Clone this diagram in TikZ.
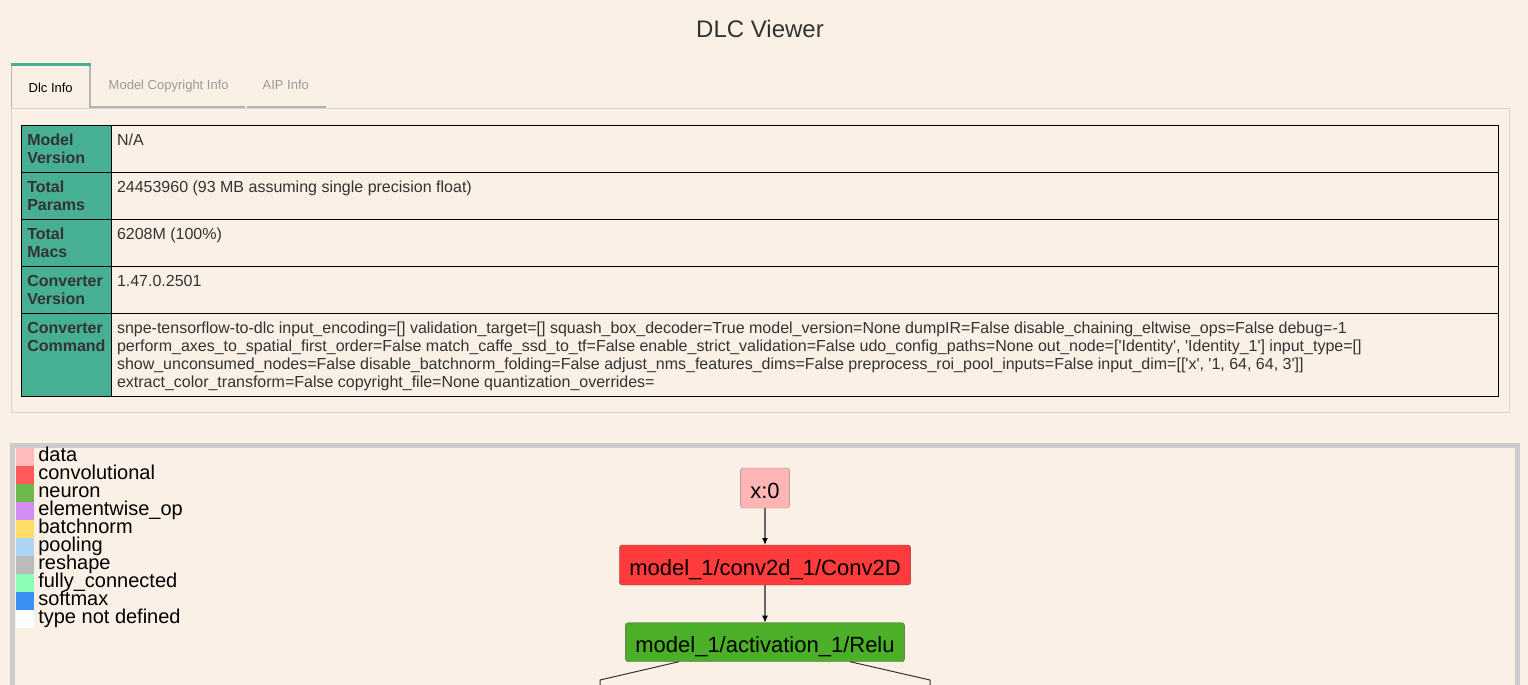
\documentclass[tikz,border=0pt]{standalone}
\usepackage{fontspec}
\setmainfont{Liberation Sans}[Ligatures=TeXOff]
\usetikzlibrary{arrows.meta}

\definecolor{pagebg}{HTML}{FAF0E6}
\definecolor{txt}{HTML}{333333}
\definecolor{hdrteal}{HTML}{47AF94}
\definecolor{tabgrey}{HTML}{B4B4B4}
\definecolor{tabtext}{HTML}{9A9A9A}
\definecolor{panelgrey}{HTML}{D3D3D3}
\definecolor{framegrey}{HTML}{CCCCCC}
\definecolor{datacol}{HTML}{FFBBBB}
\definecolor{convcol}{HTML}{FF5A5A}
\definecolor{neuroncol}{HTML}{6DB84A}
\definecolor{eltcol}{HTML}{D18DF2}
\definecolor{bncol}{HTML}{FFDD66}
\definecolor{poolcol}{HTML}{ADD3F5}
\definecolor{reshapecol}{HTML}{BBBBBB}
\definecolor{fccol}{HTML}{8CFFB4}
\definecolor{softmaxcol}{HTML}{3B8FF0}
\definecolor{xfill}{HTML}{FFB5B5}
\definecolor{convfill}{HTML}{FF3B3B}
\definecolor{relufill}{HTML}{4CAF28}

\begin{document}
\begin{tikzpicture}[x=1pt,y=-1pt,
    every node/.style={inner sep=0pt, outer sep=0pt, text=txt},
    cellbox/.style={draw=black, line width=1.2pt},
    hcell/.style={anchor=base west, align=left, font=\bfseries\fontsize{16}{18}\selectfont},
    vcell/.style={anchor=base west, align=left, font=\fontsize{16}{18}\selectfont},
    tabname/.style={anchor=base, font=\fontsize{13}{15}\selectfont, text=tabtext},
    swatch/.style={anchor=north west, minimum width=18.6pt, minimum height=18pt},
    legtext/.style={anchor=base west, font=\fontsize{20}{18}\selectfont, text=black},
    layer/.style={draw=black!65, rounded corners=3pt, minimum height=40pt, inner xsep=10pt,
        text height=22pt, text depth=2pt, font=\fontsize{22}{24}\selectfont, text=black},
    flow/.style={draw=black!60, line width=1.3pt, -{Latex[length=7pt,width=6pt,color=black]}},
    branch/.style={draw=black!80, line width=1pt}]
    \useasboundingbox (0,0) rectangle (1528,685);
    \clip (0,0) rectangle (1528,685);
    \fill[pagebg] (0,0) rectangle (1528,685);

    % title
    \node[anchor=base, font=\fontsize{24}{28}\selectfont] (title) at (760,37.3) {DLC Viewer};

    % tabs
    \draw[tabgrey, line width=1.5pt] (11.5,108) -- (11.5,65) (90,65) -- (90,108);
    \draw[hdrteal, line width=3pt] (10.7,64.8) -- (90.7,64.8);
    \draw[tabgrey, line width=2pt] (90.7,107) -- (245,107) (246.7,107) -- (325.7,107);
    \node[tabname, text=black] (dlctab) at (50.7,92.3) {Dlc Info};
    \node[tabname] (copytab) at (168.7,89) {Model Copyright Info};
    \node[tabname] (aiptab) at (285.8,89) {AIP Info};

    % info panel (base of a node = baseline of its last line)
    \draw[panelgrey, line width=1pt] (11,108.5) rectangle (1509,412);
    \fill[hdrteal] (21.3,125.3) rectangle (111.7,396.3);
    \draw[cellbox] (21.3,125.3) rectangle (1498.7,396.3);
    \draw[cellbox] (111.7,125.3) -- (111.7,396.3);
    \draw[cellbox] (21.3,172.3) -- (1498.7,172.3);
    \draw[cellbox] (21.3,219.3) -- (1498.7,219.3);
    \draw[cellbox] (21.3,266.3) -- (1498.7,266.3);
    \draw[cellbox] (21.3,313.3) -- (1498.7,313.3);

    \node[hcell] (hversion) at (27.3,163.6) {Model\\Version};
    \node[vcell] (vversion) at (117,145.6) {N/A};
    \node[hcell] (hparams) at (27.3,210.6) {Total\\Params};
    \node[vcell] (vparams) at (117,192.6) {24453960 (93 MB assuming single precision float)};
    \node[hcell] (hmacs) at (27.3,257.6) {Total\\Macs};
    \node[vcell] (vmacs) at (117,239.6) {6208M (100\%)};
    \node[hcell] (hconv) at (27.3,304.6) {Converter\\Version};
    \node[vcell] (vconv) at (117,286.6) {1.47.0.2501};
    \node[hcell] (hcmd) at (27.3,351.6) {Converter\\Command};
    \node[vcell] (vcmd) at (117,387.6) {snpe-tensorflow-to-dlc input\_encoding=[] validation\_target=[] squash\_box\_decoder=True model\_version=None dumpIR=False disable\_chaining\_eltwise\_ops=False debug=-1\\
        perform\_axes\_to\_spatial\_first\_order=False match\_caffe\_ssd\_to\_tf=False enable\_strict\_validation=False udo\_config\_paths=None out\_node=['Identity', 'Identity\_1'] input\_type=[]\\
        show\_unconsumed\_nodes=False disable\_batchnorm\_folding=False adjust\_nms\_features\_dims=False preprocess\_roi\_pool\_inputs=False input\_dim=[['x', '1, 64, 64, 3']]\\
        extract\_color\_transform=False copyright\_file=None quantization\_overrides=};

    % graph panel
    \draw[framegrey, line width=5pt] (12.5,700) -- (12.5,445.8) -- (1517.5,445.8) -- (1517.5,700);

    % legend
    \node[swatch, fill=datacol] (sdata) at (15.7,448.3) {};
    \node[legtext] (ldata) at (38.3,461.7) {data};
    \node[swatch, fill=convcol] (sconv) at (15.7,466.3) {};
    \node[legtext] (lconv) at (38.3,479.7) {convolutional};
    \node[swatch, fill=neuroncol] (sneuron) at (15.7,484.3) {};
    \node[legtext] (lneuron) at (38.3,497.7) {neuron};
    \node[swatch, fill=eltcol] (selt) at (15.7,502.3) {};
    \node[legtext] (lelt) at (38.3,515.7) {elementwise\_op};
    \node[swatch, fill=bncol] (sbn) at (15.7,520.3) {};
    \node[legtext] (lbn) at (38.3,533.7) {batchnorm};
    \node[swatch, fill=poolcol] (spool) at (15.7,538.3) {};
    \node[legtext] (lpool) at (38.3,551.7) {pooling};
    \node[swatch, fill=reshapecol] (sreshape) at (15.7,556.3) {};
    \node[legtext] (lreshape) at (38.3,569.7) {reshape};
    \node[swatch, fill=fccol] (sfc) at (15.7,574.3) {};
    \node[legtext] (lfc) at (38.3,587.7) {fully\_connected};
    \node[swatch, fill=softmaxcol] (ssoftmax) at (15.7,592.3) {};
    \node[legtext] (lsoftmax) at (38.3,605.7) {softmax};
    \node[swatch, fill=white] (sundef) at (15.7,610.3) {};
    \node[legtext] (lundef) at (38.3,623.7) {type not defined};

    % layers
    \node[layer, fill=xfill, draw=black!45] (x0) at (765,488) {x:0};
    \node[layer, fill=convfill] (conv) at (765,565) {model\_1/conv2d\_1/Conv2D};
    \node[layer, fill=relufill, minimum height=39pt] (relu) at (765,642.2) {model\_1/activation\_1/Relu};
    \draw[flow] (x0) -- (conv);
    \draw[flow] (conv) -- (relu);

    \coordinate (bendl) at (600,680);
    \coordinate (downl) at (600,700);
    \coordinate (bendr) at (930,680);
    \coordinate (downr) at (930,700);
    \draw[branch] ([xshift=-86pt]relu.south) -- (bendl) -- (downl);
    \draw[branch] ([xshift=85pt]relu.south) -- (bendr) -- (downr);
\end{tikzpicture}
\end{document}
